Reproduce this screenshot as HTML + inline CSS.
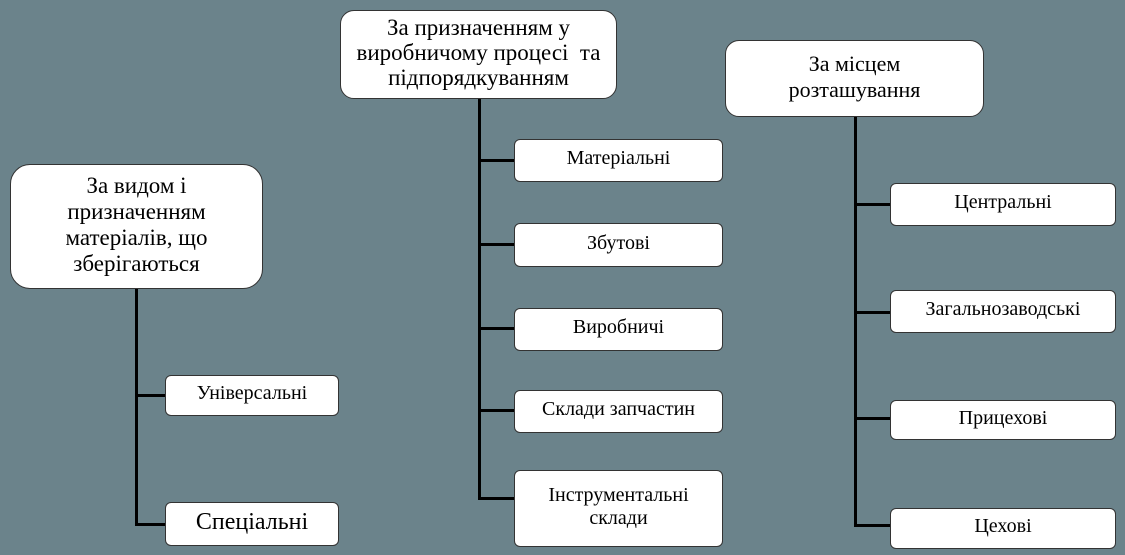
<!DOCTYPE html>
<html><head><meta charset="utf-8"><style>
html,body{margin:0;padding:0;}
body{width:1125px;height:555px;background:#6b838b;position:relative;overflow:hidden;font-family:"Liberation Serif","Times New Roman","DejaVu Serif",serif;color:#000;}
.b{position:absolute;background:#fff;border:1px solid #333;border-radius:6px;box-sizing:border-box;text-align:center;font-size:20px;line-height:23px;display:flex;align-items:center;justify-content:center;padding-bottom:4px;font-family:"Liberation Serif","DejaVu Serif",serif;}
.p{border-radius:20px;font-size:23px;line-height:26px;}
.l{position:absolute;background:#000;}
</style></head><body>
<div class="l" style="left:135px;top:288px;width:3px;height:238px"></div>
<div class="l" style="left:135px;top:394px;width:31px;height:3px"></div>
<div class="l" style="left:135px;top:523px;width:31px;height:3px"></div>
<div class="l" style="left:478px;top:98px;width:3px;height:402px"></div>
<div class="l" style="left:478px;top:159px;width:37px;height:3px"></div>
<div class="l" style="left:478px;top:243px;width:37px;height:3px"></div>
<div class="l" style="left:478px;top:327px;width:37px;height:3px"></div>
<div class="l" style="left:478px;top:409px;width:37px;height:3px"></div>
<div class="l" style="left:478px;top:497px;width:37px;height:3px"></div>
<div class="l" style="left:854px;top:116px;width:3px;height:411px"></div>
<div class="l" style="left:854px;top:203px;width:37px;height:3px"></div>
<div class="l" style="left:854px;top:311px;width:37px;height:3px"></div>
<div class="l" style="left:854px;top:417px;width:37px;height:3px"></div>
<div class="l" style="left:854px;top:524px;width:37px;height:3px"></div>

<div class="b p" style="left:10px;top:164px;width:253px;height:125px">За видом і<br>призначенням<br>матеріалів, що<br>зберігаються</div>
<div class="b" style="left:165px;top:375px;width:174px;height:41px">Універсальні</div>
<div class="b" style="left:165px;top:502px;width:174px;height:44px;font-size:24px">Спеціальні</div>

<div class="b p" style="left:340px;top:10px;width:277px;height:89px;border-radius:14px;line-height:25px">За призначенням у<br>виробничому процесі&nbsp; та<br>підпорядкуванням</div>
<div class="b" style="left:514px;top:139px;width:209px;height:43px">Матеріальні</div>
<div class="b" style="left:514px;top:223px;width:209px;height:44px">Збутові</div>
<div class="b" style="left:514px;top:308px;width:209px;height:43px">Виробничі</div>
<div class="b" style="left:514px;top:390px;width:209px;height:43px">Склади запчастин</div>
<div class="b" style="left:514px;top:470px;width:209px;height:77px">Інструментальні<br>склади</div>

<div class="b p" style="left:725px;top:40px;width:259px;height:77px;border-radius:14px;font-size:22px">За місцем<br>розташування</div>
<div class="b" style="left:890px;top:183px;width:226px;height:43px">Центральні</div>
<div class="b" style="left:890px;top:290px;width:226px;height:43px">Загальнозаводські</div>
<div class="b" style="left:890px;top:400px;width:226px;height:40px">Прицехові</div>
<div class="b" style="left:890px;top:508px;width:226px;height:41px">Цехові</div>
</body></html>
